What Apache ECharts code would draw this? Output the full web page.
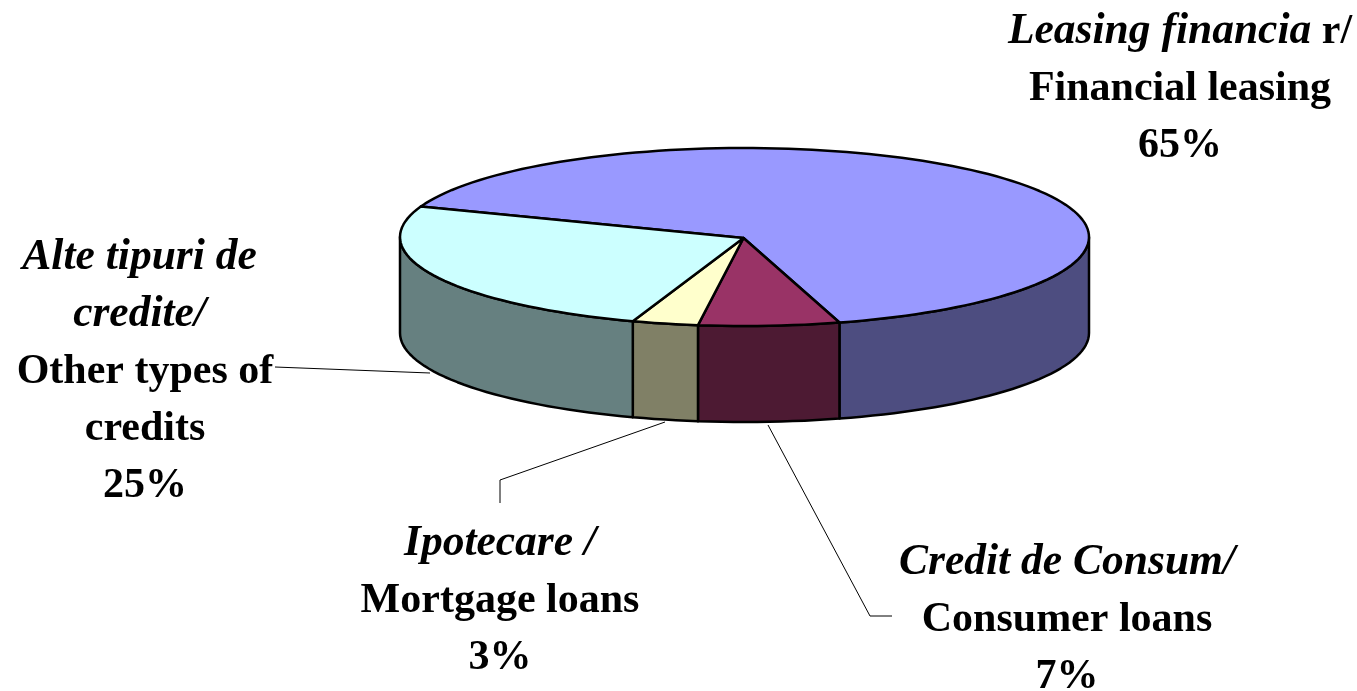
<!DOCTYPE html>
<html>
<head>
<meta charset="utf-8">
<style>html,body{margin:0;padding:0;background:#fff}#c{width:1357px;height:691px}</style>
<script src="https://cdn.jsdelivr.net/npm/echarts@6/dist/echarts.min.js"></script>
</head>
<body>
<div id="c"></div>
<script>
// Data, in drawing order (clockwise)
var categoriesRo = ['Leasing financia', 'Credit de Consum/', 'Ipotecare /', 'Alte tipuri de \ncredite/ '];
var categoriesEn = ['Financial leasing', 'Consumer loans', 'Mortgage loans', 'Other types of\ncredits'];
var shares = [65, 6.6, 3.1, 25.3];

// Style and layout
var topColors = ['#9999FF', '#993366', '#FFFFCC', '#CCFFFF'];
var sideColors = ['#4D4D80', '#4D1A33', '#808066', '#668080'];
var labelCenters = [[1180, 89], [1067, 620], [500, 601], [145, 372]];
var leaderLines = [null, [[768, 425], [870, 616], [892, 616]], [[665, 422], [500, 480], [500, 503]], [[275, 367], [430, 373]]];
var CX = 744.5, CY = 237, RX = 344.5, RY = 89, DEPTH = 96, START = 200;
var FONT = '"Liberation Serif", "Times New Roman", serif', FS_B = 42, FS_I = 43.5, LH = 56.9;

var total = shares.reduce(function (a, b) { return a + b; }, 0);
function pt(deg, dy) {
  var r = deg * Math.PI / 180;
  return [CX + RX * Math.cos(r), CY + RY * Math.sin(r) + (dy || 0)];
}
function arc(a0, a1, dy) {
  var out = [], n = Math.max(2, Math.ceil((a1 - a0) / 2));
  for (var i = 0; i <= n; i++) out.push(pt(a0 + (a1 - a0) * i / n, dy));
  return out;
}
function lineStyle() { return { fill: 'none', stroke: '#000', lineWidth: 1 }; }
function richLabel(i) {
  var pct = Math.round(shares[i]) + '%';
  var ro = categoriesRo[i].split('\n').map(function (s) { return '{i|' + s + '}'; }).join('\n');
  if (i === 0) ro += '{b| r/}';
  var en = categoriesEn[i].split('\n').map(function (s) { return '{b|' + s + '}'; }).join('\n');
  return ro + '\n' + en + '\n{b|' + pct + '}';
}

function renderItem(params, api) {
  var i = params.dataIndex, before = 0;
  for (var k = 0; k < i; k++) before += shares[k];
  var a0 = START + before / total * 360;
  var a1 = a0 + api.value(0) / total * 360;
  var children = [];
  // visible part of the rim: the front half of the ellipse
  [[0, 180], [360, 540]].forEach(function (w) {
    var s = Math.max(a0, w[0]), e = Math.min(a1, w[1]);
    if (e > s) {
      children.push({
        type: 'polygon',
        shape: { points: arc(s, e, 0).concat(arc(s, e, DEPTH).reverse()) },
        style: { fill: sideColors[i], stroke: '#000', lineWidth: 2.5, lineJoin: 'round' }
      });
    }
  });
  children.push({
    type: 'polygon',
    shape: { points: [[CX - 1, CY + 1]].concat(arc(a0, a1, 0)) },
    style: { fill: topColors[i], stroke: '#000', lineWidth: 2.5, lineJoin: 'round' }
  });
  if (leaderLines[i]) {
    children.push({ type: 'polyline', shape: { points: leaderLines[i] }, style: lineStyle() });
  }
  children.push({
    type: 'text',
    style: {
      x: labelCenters[i][0], y: labelCenters[i][1], text: richLabel(i),
      align: 'center', verticalAlign: 'middle', fill: '#000',
      rich: {
        i: { font: 'italic bold ' + FS_I + 'px ' + FONT, lineHeight: LH, fill: '#000' },
        b: { font: 'bold ' + FS_B + 'px ' + FONT, lineHeight: LH, fill: '#000' }
      }
    }
  });
  return { type: 'group', children: children };
}

var chart = echarts.init(document.getElementById('c'), null, { renderer: 'canvas' });
chart.setOption({
  animation: false,
  backgroundColor: '#fff',
  series: [{
    type: 'custom',
    coordinateSystem: 'none',
    renderItem: renderItem,
    silent: true,
    data: shares.map(function (v, i) { return { value: [v], name: categoriesEn[i] }; })
  }]
});
</script>
</body>
</html>
